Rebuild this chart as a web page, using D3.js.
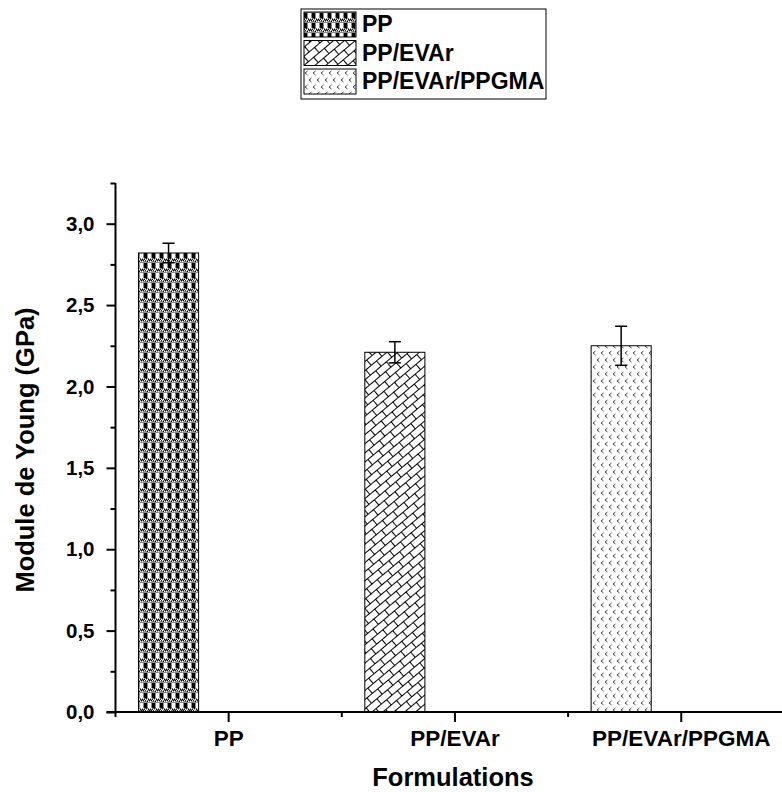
<!DOCTYPE html>
<html><head><meta charset="utf-8">
<script src="https://cdn.jsdelivr.net/npm/d3@7"></script>
<style>
body{margin:0;background:#fff;}
text{font-family:"Liberation Sans",Arial,sans-serif;font-weight:bold;fill:#000;}
</style></head>
<body><svg id="c" width="782" height="792"></svg>
<script>
const categories = ["PP", "PP/EVAr", "PP/EVAr/PPGMA"];
const series = ["PP", "PP/EVAr", "PP/EVAr/PPGMA"];
const values = [2.82, 2.21, 2.25];
const errors = [0.06, 0.065, 0.12];
const yTicks = [0, 0.5, 1.0, 1.5, 2.0, 2.5, 3.0];
const yMinorTicks = [0.25, 0.75, 1.25, 1.75, 2.25, 2.75, 3.25];
const patternIds = ["pChecker", "pBrick", "pChevron"];

(function(){
const svg = d3.select("#c");
const defs = svg.append("defs");

// PP pattern: rows of black/white blocks separated by grey dithered rows
const p1 = defs.append("pattern").attr("id","pChecker").attr("patternUnits","userSpaceOnUse")
  .attr("width",8).attr("height",10);
p1.append("rect").attr("width",8).attr("height",10).attr("fill","#8a8a8a");
[[0,0],[2,0],[4,1],[6,1],[1,9],[3,9],[5,8],[7,8]].forEach(([a,b]) =>
  p1.append("rect").attr("x",a).attr("y",b).attr("width",1).attr("height",1).attr("fill","#fff"));
[[1,0],[3,1],[5,0],[7,0],[0,9],[2,8],[4,9],[6,9]].forEach(([a,b]) =>
  p1.append("rect").attr("x",a).attr("y",b).attr("width",1).attr("height",1).attr("fill","#000"));
p1.append("rect").attr("x",0).attr("y",3).attr("width",3).attr("height",5).attr("fill","#000");
p1.append("rect").attr("x",4).attr("y",3).attr("width",3).attr("height",5).attr("fill","#fff");

// PP/EVAr pattern: rotated brick
const p2 = defs.append("pattern").attr("id","pBrick").attr("patternUnits","userSpaceOnUse")
  .attr("width",14).attr("height",14).attr("patternTransform","rotate(-40)");
p2.append("rect").attr("width",14).attr("height",14).attr("fill","#fff");
p2.append("path").attr("d","M0,0.5H14M0,7.5H14M0.5,0.5V7.5M7.5,7.5V14")
  .attr("stroke","#000").attr("stroke-width",1).attr("fill","none");

// PP/EVAr/PPGMA pattern: staggered chevrons
const p3 = defs.append("pattern").attr("id","pChevron").attr("patternUnits","userSpaceOnUse")
  .attr("width",8).attr("height",14);
p3.append("rect").attr("width",8).attr("height",14).attr("fill","#fff");
p3.append("path").attr("d","M3.5,1 L1,3 L3.5,5 M7.5,8 L5,10 L7.5,12")
  .attr("stroke","#444").attr("stroke-width",1).attr("fill","none");

const left = 115.5, bottom = 712, topY = 183;
const x = d3.scaleBand().domain(categories).range([left, left + 3*226.3]).padding(0);
const inner = d3.scaleBand().domain(series).range([0, x.bandwidth()]).paddingInner(0).paddingOuter(0.383);
const y = d3.scaleLinear().domain([0, 3.25]).range([bottom, topY]);

// bars
const g = svg.append("g");
categories.forEach((c, i) => {
  const bx = x(c) + inner(series[0]);
  g.append("rect").attr("x", bx).attr("y", y(values[i]))
    .attr("width", inner.bandwidth()).attr("height", y(0) - y(values[i]))
    .attr("fill", `url(#${patternIds[i]})`).attr("stroke","#000").attr("stroke-width",1);
  const cx = bx + inner.bandwidth()/2;
  const e = g.append("g").attr("stroke","#000").attr("stroke-width",1.5);
  e.append("line").attr("x1",cx).attr("x2",cx).attr("y1",y(values[i]-errors[i])).attr("y2",y(values[i]+errors[i]));
  [values[i]-errors[i], values[i]+errors[i]].forEach(v => {
    e.append("line").attr("x1",cx-6).attr("x2",cx+6).attr("y1",y(v)).attr("y2",y(v));
  });
});

// y axis
const yAxis = svg.append("g").attr("transform",`translate(${left},0)`)
  .call(d3.axisLeft(y).tickValues(yTicks).tickSize(9).tickPadding(12)
    .tickFormat(d => d3.format(".1f")(d).replace(".", ",")));
yAxis.select(".domain").remove();
yAxis.selectAll("line").attr("stroke","#000").attr("stroke-width",2);
yAxis.selectAll("text").style("font-size","20.5px");
const yMinor = svg.append("g").attr("transform",`translate(${left},0)`)
  .call(d3.axisLeft(y).tickValues(yMinorTicks).tickSize(5).tickFormat(""));
yMinor.select(".domain").remove();
yMinor.selectAll("line").attr("stroke","#000").attr("stroke-width",2);

// x axis
const xAxis = svg.append("g").attr("transform",`translate(0,${bottom})`)
  .call(d3.axisBottom(x).tickSize(10).tickPadding(8));
xAxis.select(".domain").remove();
xAxis.selectAll("line").attr("stroke","#000").attr("stroke-width",2);
xAxis.selectAll("text").style("font-size","22.5px");
const boundaries = categories.map(c => x(c)).concat([x(categories[2]) + x.bandwidth()]);
svg.append("g").selectAll("line").data(boundaries).join("line")
  .attr("x1",d=>d).attr("x2",d=>d).attr("y1",bottom).attr("y2",bottom+5)
  .attr("stroke","#000").attr("stroke-width",2);

// axis lines
svg.append("line").attr("x1",left).attr("x2",left).attr("y1",topY).attr("y2",bottom+1)
  .attr("stroke","#000").attr("stroke-width",2);
svg.append("line").attr("x1",left-9).attr("x2",800).attr("y1",bottom).attr("y2",bottom)
  .attr("stroke","#000").attr("stroke-width",2);

// axis titles
svg.append("text").attr("x",453).attr("y",786).attr("text-anchor","middle")
  .style("font-size","25.5px").text("Formulations");
svg.append("text").attr("transform","translate(34,450) rotate(-90)").attr("text-anchor","middle")
  .style("font-size","25.5px").text("Module de Young (GPa)");

// legend
const lg = svg.append("g");
lg.append("rect").attr("x",301).attr("y",9).attr("width",245).attr("height",90)
  .attr("fill","#fff").attr("stroke","#000").attr("stroke-width",1);
series.forEach((s, i) => {
  const yy = 12 + i*28.5;
  lg.append("rect").attr("x",304).attr("y",yy).attr("width",52).attr("height",25)
    .attr("fill",`url(#${patternIds[i]})`).attr("stroke","#000").attr("stroke-width",1);
  lg.append("text").attr("x",362).attr("y",yy+20).style("font-size","23px").text(s);
});
})();
</script></body></html>
